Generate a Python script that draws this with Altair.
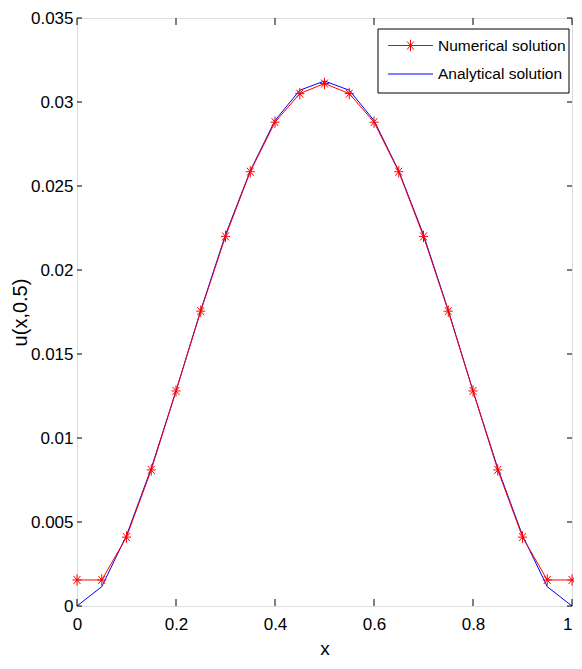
import altair as alt
import pandas as pd

# ---- data ----
x_vals = [0.0, 0.05, 0.1, 0.15, 0.2, 0.25, 0.3, 0.35, 0.4, 0.45, 0.5,
          0.55, 0.6, 0.65, 0.7, 0.75, 0.8, 0.85, 0.9, 0.95, 1.0]
numerical = [0.00155, 0.00155, 0.0041, 0.0081, 0.0128, 0.01755, 0.0220, 0.02585, 0.0288, 0.0305, 0.0311,
             0.0305, 0.0288, 0.02585, 0.0220, 0.01755, 0.0128, 0.0081, 0.0041, 0.00155, 0.00155]
analytical = [0.0, 0.00115, 0.0042, 0.0082, 0.0128, 0.0176, 0.0221, 0.0259, 0.0289, 0.0307, 0.03125,
              0.0307, 0.0289, 0.0259, 0.0221, 0.0176, 0.0128, 0.0082, 0.0042, 0.00115, 0.0]
x_ticks = [0, 0.2, 0.4, 0.6, 0.8, 1.0]
y_ticks = [0, 0.005, 0.01, 0.015, 0.02, 0.025, 0.03, 0.035]
legend_labels = ["Numerical solution", "Analytical solution"]

W, H = 495, 588
FONT = "Liberation Sans, Arial, sans-serif"
RED = "#ff0000"
BLUE = "#0000ff"
STAR = "M0,-1L0,1M-0.8,0L0.8,0M-0.6,-0.7L0.6,0.7M-0.6,0.7L0.6,-0.7"

df = pd.DataFrame({"x": x_vals, "num": numerical, "ana": analytical})
xt = pd.DataFrame({"t": x_ticks})
yt = pd.DataFrame({"t": y_ticks})
one = pd.DataFrame({"a": [0]})

xscale = alt.Scale(domain=[0, 1], nice=False, zero=False)
yscale = alt.Scale(domain=[0, 0.035], nice=False, zero=False)

xaxis = alt.Axis(values=x_ticks, format="~g", ticks=False, domain=False, grid=False,
                 labelFont=FONT, labelFontSize=17, labelColor="black",
                 labelPadding=10, labelFlush=False, labelOverlap=False,
                 labelAlign={"condition": {"test": "datum.value == 1", "value": "right"}, "value": "center"},
                 title="x", titleFont=FONT, titleFontSize=19, titleFontWeight="normal",
                 titleColor="black", titlePadding=7)
yaxis = alt.Axis(values=y_ticks, format="~g", ticks=False, domain=False, grid=False,
                 labelFont=FONT, labelFontSize=17, labelColor="black",
                 labelPadding=4, labelFlush=False, labelOverlap=False,
                 title="u(x,0.5)", titleFont=FONT, titleFontSize=20, titleFontWeight="normal",
                 titleColor="black", titleX=-57, titleY=H / 2,
                 titleAlign="center", titleBaseline="middle")

base = alt.Chart(df)

analytic_line = base.mark_line(color=BLUE, strokeWidth=1).encode(
    x=alt.X("x:Q", scale=xscale, axis=xaxis),
    y=alt.Y("ana:Q", scale=yscale, axis=yaxis),
)
num_line = base.mark_line(color=RED, strokeWidth=1).encode(
    x=alt.X("x:Q", scale=xscale),
    y=alt.Y("num:Q", scale=yscale),
)
num_pts = base.mark_point(shape=STAR, color=RED, strokeWidth=1, filled=False, size=130, opacity=1).encode(
    x=alt.X("x:Q", scale=xscale),
    y=alt.Y("num:Q", scale=yscale),
)

# inward ticks on all four sides
tick_style = dict(color="black", strokeWidth=1)
bottom_ticks = alt.Chart(xt).mark_rule(**tick_style).encode(
    x=alt.X("t:Q", scale=xscale), y=alt.value(H), y2=alt.value(H - 7))
top_ticks = alt.Chart(xt).mark_rule(**tick_style).encode(
    x=alt.X("t:Q", scale=xscale), y=alt.value(0), y2=alt.value(7))
left_ticks = alt.Chart(yt).mark_rule(**tick_style).encode(
    y=alt.Y("t:Q", scale=yscale), x=alt.value(0), x2=alt.value(5))
right_ticks = alt.Chart(yt).mark_rule(**tick_style).encode(
    y=alt.Y("t:Q", scale=yscale), x=alt.value(W), x2=alt.value(W - 5))

# legend (drawn in the plot's top-right corner)
LX0, LX1, LY0, LY1 = 301, 492, 11, 75
leg_box = alt.Chart(one).mark_rect(fill="white", stroke="black", strokeWidth=1).encode(
    x=alt.value(LX0), x2=alt.value(LX1), y=alt.value(LY0), y2=alt.value(LY1))
leg_l1 = alt.Chart(one).mark_rule(color=RED, strokeWidth=1).encode(
    x=alt.value(311), x2=alt.value(356), y=alt.value(27.5))
leg_p1 = alt.Chart(one).mark_point(shape=STAR, color=RED, strokeWidth=1, filled=False, size=130, opacity=1).encode(
    x=alt.value(333.5), y=alt.value(27.5))
leg_l2 = alt.Chart(one).mark_rule(color=BLUE, strokeWidth=1).encode(
    x=alt.value(311), x2=alt.value(356), y=alt.value(56))
leg_t1 = alt.Chart(one).mark_text(align="left", baseline="middle", font=FONT, fontSize=15.5, color="black").encode(
    x=alt.value(361), y=alt.value(27.5), text=alt.value(legend_labels[0]))
leg_t2 = alt.Chart(one).mark_text(align="left", baseline="middle", font=FONT, fontSize=15.5, color="black").encode(
    x=alt.value(361), y=alt.value(56), text=alt.value(legend_labels[1]))

chart = alt.layer(
    analytic_line, num_line, num_pts,
    bottom_ticks, top_ticks, left_ticks, right_ticks,
    leg_box, leg_l1, leg_p1, leg_l2, leg_t1, leg_t2,
).properties(
    width=W, height=H,
    autosize=alt.AutoSizeParams(type="none"),
    padding={"left": 69, "top": 10, "right": 2, "bottom": 52},
).configure_view(
    stroke="black", strokeWidth=2
).configure(background="white")

chart.save("out.html", embed_options={"renderer": "svg", "actions": False})
